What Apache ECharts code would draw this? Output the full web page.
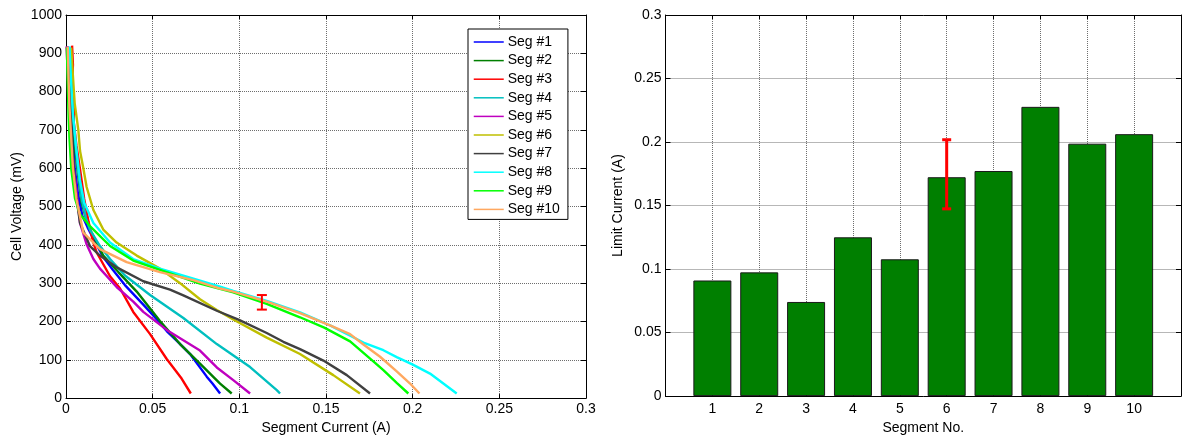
<!DOCTYPE html>
<html>
<head>
<meta charset="utf-8">
<script src="https://cdn.jsdelivr.net/npm/echarts@6/dist/echarts.min.js"></script>
<style>
  html, body { margin: 0; padding: 0; background: #fff; }
  #chart { width: 1184px; height: 440px; }
</style>
</head>
<body>
<div id="chart"></div>
<script>
// Polarization curves per segment: [current (A), voltage (mV)]
const seg1 = [[0.001,918],[0.002,850],[0.003,760],[0.004,680],[0.005,600],[0.007,530],[0.0095,475],[0.0125,445],[0.0165,410],[0.0215,368],[0.027,335],[0.034,295],[0.0446,244],[0.0515,210],[0.0581,175],[0.065,145],[0.0716,115],[0.0812,56],[0.0845,38],[0.0889,12]];
const seg2 = [[0.002,915],[0.003,830],[0.004,740],[0.005,660],[0.007,580],[0.009,510],[0.0115,470],[0.0138,440],[0.0215,372],[0.0302,329],[0.0408,278],[0.0542,201],[0.0658,141],[0.0773,90],[0.0889,38],[0.0956,12]];
const seg3 = [[0.0035,920],[0.004,870],[0.0035,820],[0.0045,780],[0.0045,720],[0.006,660],[0.008,600],[0.0105,520],[0.013,460],[0.0155,410],[0.0177,380],[0.0254,318],[0.0312,286],[0.0388,225],[0.0485,167],[0.0581,102],[0.0667,51],[0.072,12]];
const seg4 = [[0.0015,915],[0.003,820],[0.004,740],[0.0055,660],[0.007,590],[0.009,520],[0.0115,470],[0.0138,440],[0.0196,397],[0.0254,363],[0.034,320],[0.0485,269],[0.0677,209],[0.087,141],[0.1062,81],[0.1216,21],[0.1235,12]];
const seg5 = [[0.0003,918],[0.001,850],[0.002,760],[0.003,680],[0.0045,600],[0.0065,520],[0.0081,457],[0.012,400],[0.0158,363],[0.0196,338],[0.0292,290],[0.0388,252],[0.0446,225],[0.0581,178],[0.0773,124],[0.087,80],[0.0965,47],[0.1062,12]];
const seg6 = [[0.003,915],[0.004,840],[0.005,770],[0.0071,700],[0.0081,645],[0.01,600],[0.0119,551],[0.0158,491],[0.0215,440],[0.0292,406],[0.0408,372],[0.0542,338],[0.0658,300],[0.0773,258],[0.087,230],[0.0965,205],[0.1158,158],[0.135,115],[0.1542,60],[0.1696,12]];
const seg7 = [[0.001,910],[0.002,820],[0.003,720],[0.004,630],[0.0055,540],[0.0081,457],[0.0138,397],[0.0196,372],[0.029,342],[0.0446,305],[0.06,283],[0.0677,268],[0.087,228],[0.0995,205],[0.1158,170],[0.1254,147],[0.135,128],[0.1485,98],[0.162,60],[0.1754,12]];
const seg8 = [[0.002,918],[0.003,820],[0.004,740],[0.006,650],[0.008,570],[0.0105,510],[0.0158,457],[0.0254,406],[0.0388,363],[0.0542,338],[0.0735,312],[0.0889,291],[0.0965,280],[0.1158,254],[0.135,224],[0.1523,190],[0.1716,145],[0.1831,125],[0.1908,107],[0.1998,88],[0.21,64],[0.2254,12]];
const seg9 = [[0.0005,915],[0.001,820],[0.0015,740],[0.002,680],[0.003,600],[0.0052,521],[0.008,480],[0.0138,449],[0.0254,397],[0.0388,359],[0.0542,335],[0.0773,299],[0.0965,276],[0.1158,246],[0.135,211],[0.149,184],[0.1639,148],[0.1773,96],[0.1831,73],[0.1908,40],[0.1975,12]];
const seg10 = [[0.001,918],[0.0015,830],[0.002,760],[0.003,680],[0.004,600],[0.006,520],[0.01,432],[0.0196,389],[0.035,355],[0.0542,329],[0.0735,308],[0.0889,286],[0.0965,278],[0.1158,252],[0.135,222],[0.1523,190],[0.1639,167],[0.1716,140],[0.1812,108],[0.1908,70],[0.1985,38],[0.2039,12]];

const segNames = ['Seg #1','Seg #2','Seg #3','Seg #4','Seg #5','Seg #6','Seg #7','Seg #8','Seg #9','Seg #10'];
const segColors = ['#0000FF','#007F00','#FF0000','#00BFBF','#BF00BF','#BFBF00','#404040','#00FFFF','#00FF00','#FFA860'];
const segCurves = [seg1, seg2, seg3, seg4, seg5, seg6, seg7, seg8, seg9, seg10];

// Voltage error bar on the polarization plot: [current, low mV, high mV]
const voltageErr = [[0.113, 231, 269]];

// Limit current per segment
const segNo = [1, 2, 3, 4, 5, 6, 7, 8, 9, 10];
const limitCurrent = [0.091, 0.0974, 0.0741, 0.125, 0.1077, 0.1723, 0.1772, 0.2277, 0.1987, 0.2062];
// Error bar on segment 6: [segment, low, high]
const limitErr = [[6, 0.1474, 0.2018]];

const FONT = 'Liberation Sans, Arial, Helvetica, sans-serif';
const gridLine = { show: true, showMinLine: false, showMaxLine: false, lineStyle: { color: '#6e6e6e', type: 'dotted', width: 1 } };
const frameLine = { show: true, onZero: false, lineStyle: { color: '#000', width: 1 } };
const label = { color: '#000', fontFamily: FONT, fontSize: 14 };
const nameStyle = { color: '#000', fontFamily: FONT, fontSize: 14 };
const plainNum = v => (v === 0 ? '0' : String(+v.toFixed(2)));

function errorBarRenderer(capHalf, width) {
  return function (params, api) {
    const x = api.value(0);
    const lo = api.coord([x, api.value(1)]);
    const hi = api.coord([x, api.value(2)]);
    const style = { stroke: '#FF0000', lineWidth: width };
    return {
      type: 'group',
      children: [
        { type: 'line', shape: { x1: lo[0], y1: lo[1], x2: hi[0], y2: hi[1] }, style },
        { type: 'line', shape: { x1: lo[0] - capHalf, y1: lo[1], x2: lo[0] + capHalf, y2: lo[1] }, style },
        { type: 'line', shape: { x1: hi[0] - capHalf, y1: hi[1], x2: hi[0] + capHalf, y2: hi[1] }, style }
      ]
    };
  };
}

const chart = echarts.init(document.getElementById('chart'), null, { renderer: 'canvas' });

const lineSeries = segCurves.map((d, i) => ({
  name: segNames[i],
  type: 'line',
  xAxisIndex: 0,
  yAxisIndex: 0,
  data: d,
  symbol: 'none',
  smooth: false,
  color: segColors[i],
  lineStyle: { color: segColors[i], width: 2.4 },
  animation: false,
  z: 3
}));

const option = {
  backgroundColor: '#fff',
  animation: false,
  grid: [
    { left: 66, top: 15, width: 520, height: 390, containLabel: false },
    { left: 665.5, top: 15, width: 522, height: 390, containLabel: false }
  ],
  legend: {
    data: segNames,
    orient: 'vertical',
    left: 468,
    top: 29,
    width: 99,
    backgroundColor: '#fff',
    borderColor: '#000',
    borderWidth: 1,
    borderRadius: 0,
    padding: [6, 8, 3, 5],
    itemWidth: 30,
    itemHeight: 14,
    itemGap: 4.6,
    textStyle: { color: '#000', fontFamily: FONT, fontSize: 14, padding: [0, 0, 0, -1] },
    itemStyle: { opacity: 0 },
    lineStyle: { width: 1.5 },
    selectedMode: false,
    z: 10
  },
  xAxis: [
    {
      type: 'value', gridIndex: 0, position: 'bottom', min: 0, max: 0.3, interval: 0.05,
      name: 'Segment Current (A)', nameLocation: 'middle', nameGap: 21, nameTextStyle: nameStyle,
      axisLine: frameLine, axisTick: { show: true, inside: true, length: 4, lineStyle: { color: '#000' } },
      axisLabel: Object.assign({ margin: 4, formatter: plainNum }, label),
      splitLine: gridLine
    },
    {
      type: 'value', gridIndex: 0, position: 'top', min: 0, max: 0.3, interval: 0.05,
      axisLine: frameLine, axisTick: { show: true, inside: true, length: 4, lineStyle: { color: '#000' } },
      axisLabel: { show: false }, splitLine: { show: false }
    },
    {
      type: 'value', gridIndex: 1, position: 'bottom', min: 0, max: 11, interval: 1,
      name: 'Segment No.', nameLocation: 'middle', nameGap: 22, nameTextStyle: nameStyle,
      axisLine: frameLine, axisTick: { show: true, inside: true, length: 4, lineStyle: { color: '#000' } },
      axisLabel: Object.assign({ margin: 6, formatter: v => (v >= 1 && v <= 10 ? String(v) : '') }, label),
      splitLine: gridLine
    },
    {
      type: 'value', gridIndex: 1, position: 'top', min: 0, max: 11, interval: 1,
      axisLine: frameLine, axisTick: { show: true, inside: true, length: 4, lineStyle: { color: '#000' } },
      axisLabel: { show: false }, splitLine: { show: false }
    }
  ],
  yAxis: [
    {
      type: 'value', gridIndex: 0, position: 'left', min: 0, max: 1000, interval: 100,
      name: 'Cell Voltage (mV)', nameLocation: 'middle', nameGap: 42, nameTextStyle: nameStyle,
      axisLine: frameLine, axisTick: { show: true, inside: true, length: 5, lineStyle: { color: '#000' } },
      axisLabel: Object.assign({ margin: 4, formatter: v => String(v) }, label),
      splitLine: gridLine
    },
    {
      type: 'value', gridIndex: 0, position: 'right', min: 0, max: 1000, interval: 100,
      axisLine: frameLine, axisTick: { show: true, inside: true, length: 5, lineStyle: { color: '#000' } },
      axisLabel: { show: false }, splitLine: { show: false }
    },
    {
      type: 'value', gridIndex: 1, position: 'left', min: 0, max: 0.3, interval: 0.05,
      name: 'Limit Current (A)', nameLocation: 'middle', nameGap: 40, nameTextStyle: nameStyle,
      axisLine: frameLine, axisTick: { show: true, inside: true, length: 5, lineStyle: { color: '#000' } },
      axisLabel: Object.assign({ margin: 4, formatter: plainNum }, label),
      splitLine: gridLine
    },
    {
      type: 'value', gridIndex: 1, position: 'right', min: 0, max: 0.3, interval: 0.05,
      axisLine: frameLine, axisTick: { show: true, inside: true, length: 5, lineStyle: { color: '#000' } },
      axisLabel: { show: false }, splitLine: { show: false }
    }
  ],
  series: lineSeries.concat([
    {
      name: 'voltage error',
      type: 'custom',
      xAxisIndex: 0,
      yAxisIndex: 0,
      data: voltageErr,
      encode: { x: 0, y: [1, 2] },
      renderItem: errorBarRenderer(5, 2),
      z: 4
    },
    {
      name: 'Limit Current',
      type: 'bar',
      xAxisIndex: 2,
      yAxisIndex: 2,
      data: segNo.map((s, i) => [s, limitCurrent[i]]),
      barWidth: 38,
      itemStyle: { color: '#007F00', borderColor: '#1a1a1a', borderWidth: 1 },
      z: 3
    },
    {
      name: 'limit error',
      type: 'custom',
      xAxisIndex: 2,
      yAxisIndex: 2,
      data: limitErr,
      encode: { x: 0, y: [1, 2] },
      renderItem: errorBarRenderer(4.5, 3),
      z: 4
    }
  ])
};

chart.setOption(option);
</script>
</body>
</html>
